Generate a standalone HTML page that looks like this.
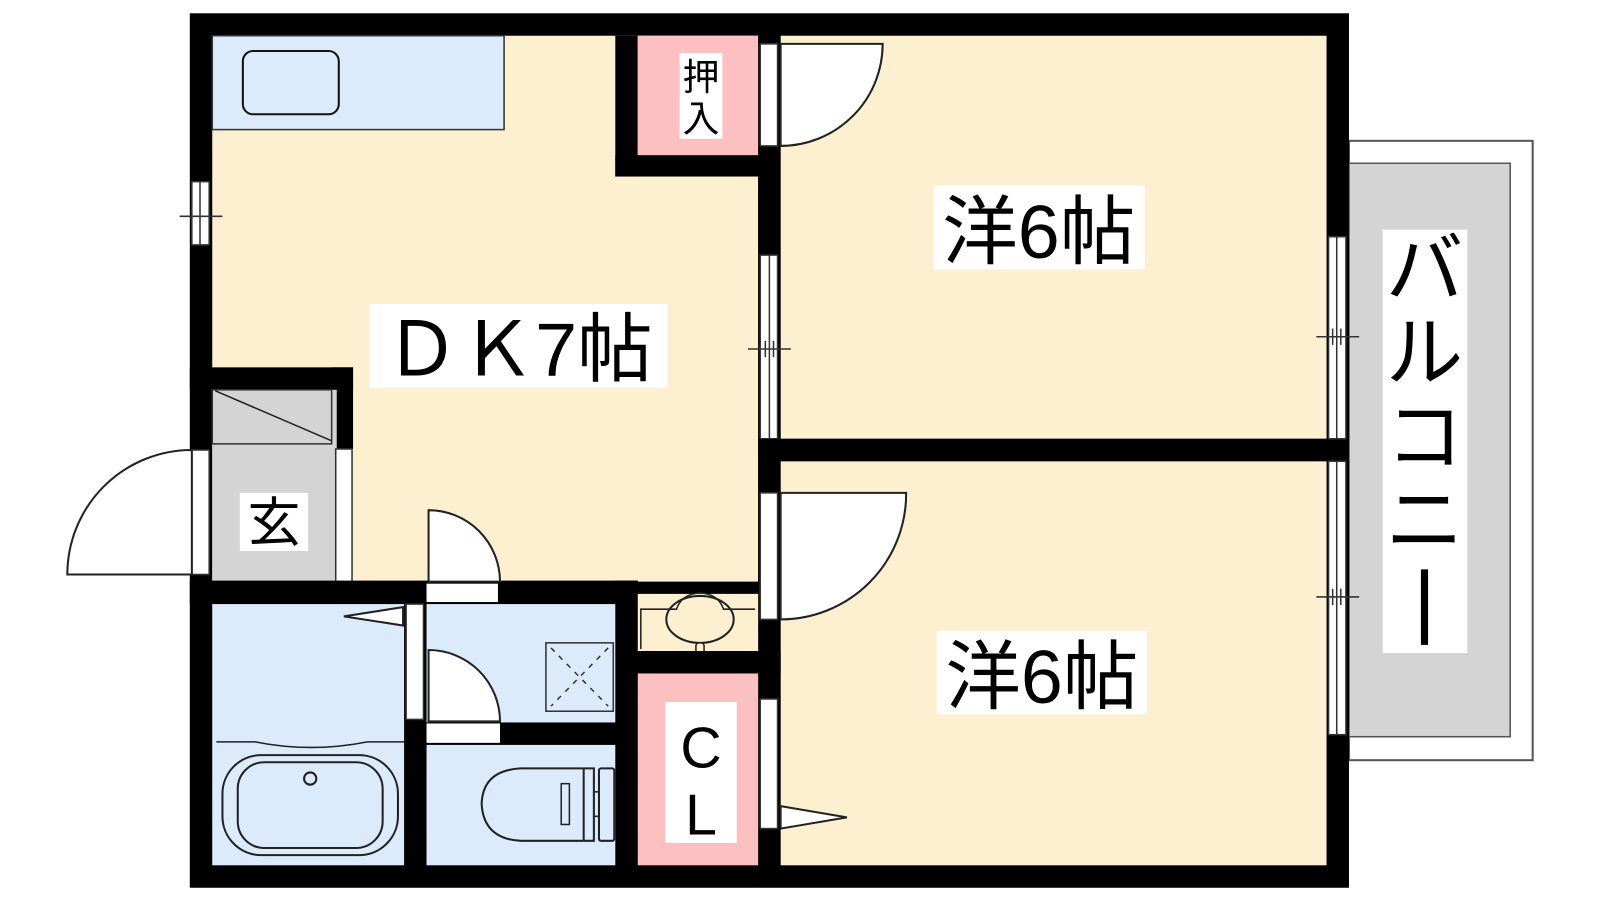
<!DOCTYPE html>
<html><head><meta charset="utf-8"><style>
html,body{margin:0;padding:0;background:#fff;width:1600px;height:900px;overflow:hidden}
svg{display:block}
text{font-family:"Liberation Sans","Noto Sans CJK JP",sans-serif;fill:#000}
</style></head><body>
<svg width="1600" height="900" viewBox="0 0 1568 882" preserveAspectRatio="none" xmlns="http://www.w3.org/2000/svg">
<rect width="1568" height="882" fill="#fff"/>
<!-- balcony -->
<rect x="1322" y="138" width="180" height="607" fill="#fff" stroke="#555" stroke-width="2"/>
<rect x="1322" y="160" width="158" height="562" fill="#d4d4d4" stroke="#555" stroke-width="1.5"/>
<!-- floors -->
<rect x="186" y="13" width="1136" height="857" fill="#000"/>
<rect x="208" y="35" width="535" height="535" fill="#fdf0d0"/>
<rect x="765" y="35" width="535" height="395" fill="#fdf0d0"/>
<rect x="765" y="452" width="535" height="396" fill="#fdf0d0"/>
<!-- kitchen counter -->
<rect x="208" y="35" width="286" height="92" fill="#dcebfc" stroke="#333" stroke-width="1.5"/>
<rect x="238" y="50" width="94" height="62" rx="10" fill="none" stroke="#111" stroke-width="2"/>
<!-- oshiire -->
<rect x="603" y="35" width="22" height="138" fill="#000"/>
<rect x="603" y="152" width="142" height="21" fill="#000"/>
<rect x="625" y="35" width="118" height="117" fill="#fcc0c0"/>
<rect x="666" y="52" width="42" height="84" fill="#fff"/>
<text x="687" y="88" font-size="36" text-anchor="middle">押</text>
<text x="687" y="129" font-size="36" text-anchor="middle">入</text>
<!-- center wall -->
<rect x="743" y="35" width="22" height="813" fill="#000"/>
<!-- upper door -->
<rect x="745" y="43" width="17" height="100" fill="#fff" stroke="#333" stroke-width="1.5"/>
<path d="M765 143 L765 43 L865 43 A100 100 0 0 1 765 143 Z" fill="#fff" stroke="#222" stroke-width="2"/>
<!-- window between DK and room -->
<rect x="745" y="250" width="17" height="180" fill="#fff" stroke="#333" stroke-width="1.5"/>
<line x1="754" y1="250" x2="754" y2="430" stroke="#333" stroke-width="1.5"/>
<line x1="733" y1="342" x2="775" y2="342" stroke="#333" stroke-width="1.5"/>
<line x1="750" y1="334" x2="750" y2="350" stroke="#333" stroke-width="1.5"/>
<line x1="758" y1="334" x2="758" y2="350" stroke="#333" stroke-width="1.5"/>
<!-- middle horizontal wall -->
<rect x="743" y="430" width="579" height="22" fill="#000"/>
<!-- lower door -->
<rect x="745" y="483" width="17" height="124" fill="#fff" stroke="#333" stroke-width="1.5"/>
<path d="M765 607 L765 483 L888 483 A123 123 0 0 1 765 607 Z" fill="#fff" stroke="#222" stroke-width="2"/>
<!-- CL door -->
<rect x="745" y="685" width="17" height="127" fill="#fff" stroke="#333" stroke-width="1.5"/>
<path d="M765 790 L830 801 L765 812 Z" fill="#fff" stroke="#222" stroke-width="2"/>
<!-- right wall windows -->
<rect x="1302" y="232" width="17" height="198" fill="#fff" stroke="#333" stroke-width="1.5"/>
<line x1="1310" y1="232" x2="1310" y2="430" stroke="#333" stroke-width="1.5"/>
<rect x="1302" y="452" width="17" height="268" fill="#fff" stroke="#333" stroke-width="1.5"/>
<line x1="1310" y1="452" x2="1310" y2="720" stroke="#333" stroke-width="1.5"/>
<line x1="1290" y1="330" x2="1332" y2="330" stroke="#333" stroke-width="1.5"/>
<line x1="1306" y1="322" x2="1306" y2="338" stroke="#333" stroke-width="1.5"/>
<line x1="1314" y1="322" x2="1314" y2="338" stroke="#333" stroke-width="1.5"/>
<line x1="1290" y1="585" x2="1332" y2="585" stroke="#333" stroke-width="1.5"/>
<line x1="1306" y1="577" x2="1306" y2="593" stroke="#333" stroke-width="1.5"/>
<line x1="1314" y1="577" x2="1314" y2="593" stroke="#333" stroke-width="1.5"/>
<!-- left wall window -->
<rect x="188" y="178" width="17" height="62" fill="#fff" stroke="#333" stroke-width="1.5"/>
<line x1="196" y1="178" x2="196" y2="240" stroke="#333" stroke-width="1.5"/>
<line x1="176" y1="212" x2="218" y2="212" stroke="#333" stroke-width="1.5"/>
<!-- genkan -->
<rect x="186" y="360" width="160" height="22" fill="#000"/>
<rect x="325" y="360" width="21" height="80" fill="#000"/>
<rect x="208" y="382" width="122" height="188" fill="#d4d4d4"/>
<rect x="208" y="382" width="117" height="53" fill="#d4d4d4" stroke="#333" stroke-width="1.5"/>
<line x1="211" y1="383" x2="325" y2="432" stroke="#222" stroke-width="1.5"/>
<rect x="329" y="440" width="16" height="130" fill="#fff" stroke="#333" stroke-width="1.5"/>
<rect x="188" y="441" width="17" height="122" fill="#fff" stroke="#333" stroke-width="1.5"/>
<path d="M188 563 L188 441 A122 122 0 0 0 66 563 Z" fill="#fff" stroke="#222" stroke-width="2"/>
<rect x="235" y="483" width="67" height="57" fill="#fff"/>
<text x="268.5" y="530" font-size="52" text-anchor="middle">玄</text>
<!-- wet area walls -->
<rect x="186" y="569" width="439" height="23" fill="#000"/>
<rect x="603" y="569" width="22" height="279" fill="#000"/>
<rect x="396" y="705" width="22" height="143" fill="#000"/>
<rect x="490" y="708" width="113" height="22" fill="#000"/>
<!-- sink area -->
<rect x="625" y="582" width="118" height="56" fill="#fdf0d0"/>
<path d="M628 636 L628 597 L663 597 Q668 582 686 581 Q704 582 709 597 L740 597" fill="none" stroke="#222" stroke-width="1.5"/>
<ellipse cx="686" cy="607" rx="33" ry="23" fill="none" stroke="#222" stroke-width="2"/>
<rect x="682" y="630" width="8" height="14" rx="3" fill="#fdf0d0" stroke="#222" stroke-width="1.5"/>
<rect x="603" y="638" width="162" height="22" fill="#000"/>
<!-- CL -->
<rect x="625" y="660" width="118" height="188" fill="#fcc0c0"/>
<rect x="652" y="688" width="70" height="138" fill="#fff"/>
<text x="687" y="752" font-size="56" text-anchor="middle">C</text>
<text x="687" y="818" font-size="56" text-anchor="middle">L</text>
<!-- bathroom -->
<rect x="208" y="592" width="188" height="256" fill="#dcebfc"/>
<path d="M212 727 L250 727 Q305 738 360 727 L396 727" fill="none" stroke="#222" stroke-width="1.5"/>
<rect x="218" y="740" width="172" height="98" rx="38" fill="none" stroke="#222" stroke-width="2"/>
<rect x="233" y="747" width="142" height="84" rx="26" fill="none" stroke="#222" stroke-width="2"/>
<circle cx="304" cy="763" r="6" fill="none" stroke="#222" stroke-width="2"/>
<rect x="398" y="592" width="17" height="113" fill="#fff" stroke="#333" stroke-width="1.5"/>
<path d="M395 595 L337 604 L395 613 Z" fill="#fff" stroke="#222" stroke-width="2"/>
<!-- washroom -->
<rect x="418" y="592" width="185" height="116" fill="#dcebfc"/>
<rect x="418" y="572" width="70" height="18" fill="#fff"/>
<path d="M420 570 L420 500 A70 70 0 0 1 490 570 Z" fill="#fff" stroke="#222" stroke-width="2"/>
<path d="M420 707 L420 637 A70 70 0 0 1 490 707 Z" fill="#fff" stroke="#222" stroke-width="2"/>
<rect x="418" y="709" width="72" height="19" fill="#fff"/>
<rect x="535" y="630" width="66" height="67" fill="none" stroke="#333" stroke-width="1.5"/>
<path d="M540 635 L596 692 M596 635 L540 692" stroke="#333" stroke-width="1.5" stroke-dasharray="5,6"/>
<!-- toilet -->
<rect x="418" y="730" width="185" height="118" fill="#dcebfc"/>
<path d="M572 753 L510 753 Q473 755 472 788 Q474 822 510 824 L572 824" fill="none" stroke="#222" stroke-width="2"/>
<path d="M572 753 L572 824 M572 753 L582 753 L582 824 L572 824" fill="none" stroke="#222" stroke-width="2"/>
<rect x="550" y="768" width="8" height="40" fill="none" stroke="#222" stroke-width="1.5"/>
<rect x="587" y="753" width="15" height="71" rx="2" fill="none" stroke="#222" stroke-width="2"/>
<line x1="582" y1="776" x2="587" y2="776" stroke="#222" stroke-width="1.5"/>
<line x1="582" y1="800" x2="587" y2="800" stroke="#222" stroke-width="1.5"/>
<!-- labels -->
<rect x="362" y="298" width="292" height="82" fill="#fff"/>
<text x="508" y="368" font-size="74" text-anchor="middle">ＤＫ7帖</text>
<rect x="915" y="182" width="207" height="82" fill="#fff"/>
<text x="1018" y="253" font-size="74" text-anchor="middle">洋6帖</text>
<rect x="918" y="618" width="206" height="82" fill="#fff"/>
<text x="1021" y="689" font-size="74" text-anchor="middle">洋6帖</text>
<rect x="1355" y="225" width="83" height="415" fill="#fff"/>
<text x="1396" y="290" font-size="76" text-anchor="middle">バ</text>
<text x="1396" y="372" font-size="76" text-anchor="middle">ル</text>
<text x="1396" y="454" font-size="76" text-anchor="middle">コ</text>
<text x="1396" y="536" font-size="76" text-anchor="middle">ニ</text>
<line x1="1396" y1="558" x2="1396" y2="632" stroke="#000" stroke-width="7"/>
</svg>
</body></html>
